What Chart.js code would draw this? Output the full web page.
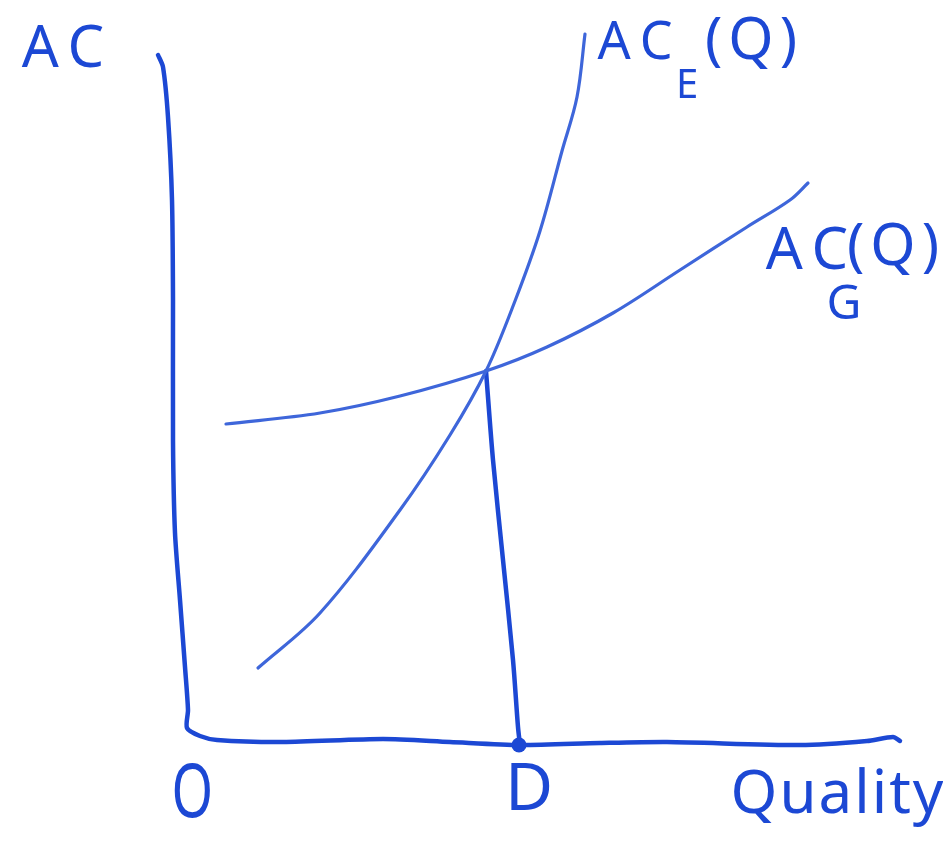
<!DOCTYPE html>
<html>
<head>
<meta charset="utf-8">
<title>Average cost and quality</title>
<script src="https://cdn.jsdelivr.net/npm/chart.js@4.4.1/dist/chart.umd.min.js"></script>
<style>
  html, body { margin: 0; padding: 0; background: #fff; }
  #wrap { width: 943px; height: 849px; position: relative; }
</style>
</head>
<body>
<div id="wrap"><canvas id="costChart"></canvas></div>
<script>
// Quality on x, average cost on y (origin O at 0,0)
// hand-drawn axis stroke: up the AC axis, round the corner, along Quality
const axisQ  = [-3.0, -2.5, -2.0, -1.6, -1.5, -1.5, -1.3, -0.8, -0.3, 0.0, -0.1, 1.2, 2.9, 9.5, 19.5, 26.2, 33.2, 41.2, 47.9, 61.2, 67.9, 70.5, 71.2];
const axisAC = [68.6, 67.4, 62.4, 54.1, 44.1, 30.0, 20.8, 14.1, 7.4, 3.1, 1.3, 0.5, 0.1, -0.1, 0.2, -0.1, -0.4, -0.2, -0.1, -0.4, 0.0, 0.4, 0.0];

// AC_E(Q): steep, convex
const acEQ = [7.0, 13.2, 21.2, 26.2, 29.8, 32.7, 35.2, 37.4, 38.9, 39.7];
const acE  = [7.3, 12.8, 23.1, 30.6, 37.0, 44.0, 51.0, 59.0, 64.4, 70.7];

// AC_G(Q): flatter
const acGQ = [3.8, 13.2, 21.2, 29.8, 35.9, 42.5, 49.2, 55.9, 60.2, 62.0];
const acG  = [31.7, 32.8, 34.5, 37.0, 39.4, 42.8, 47.1, 51.4, 54.1, 55.8];

// drop line from the crossing down to D
const dropQ  = [29.8, 30.5, 31.5, 32.5, 33.0, 33.2];
const dropAC = [37.0, 28.1, 18.1, 8.1, 1.4, -0.4];
const pointD = { q: 33.1, ac: -0.4 };

const labelTexts = ['AC', 'AC', 'E', '(Q)', 'AC', '(Q)', 'G', 'O', 'D', 'Quality'];
const labelQ     = [-12.0, 45.2, 50.0, 56.6, 62.4, 70.8, 65.7, 0.5, 34.2, 65.0];
const labelAC    = [69.1, 69.7, 65.4, 69.9, 48.9, 49.3, 43.6, -5.5, -5.0, -5.5];
const labelSizes = [58, 52, 40, 58, 58, 58, 48, 74, 66, 60];

const INK = 'rgb(28, 72, 212)';
const INK_LIGHT = 'rgb(62, 102, 218)';

function toPoints(xs, ys) {
  return xs.map((x, i) => ({ x: x, y: ys[i] }));
}

const handLabels = {
  id: 'handLabels',
  afterDatasetsDraw(chart) {
    const ctx = chart.ctx;
    const xs = chart.scales.x, ys = chart.scales.y;
    ctx.save();
    ctx.fillStyle = INK;
    ctx.textAlign = 'center';
    ctx.textBaseline = 'middle';
    labelTexts.forEach((t, i) => {
      ctx.font = labelSizes[i] + 'px "Noto Sans", sans-serif';
      ctx.letterSpacing = (t === 'AC') ? '10px' : (t === '(Q)' ? '6px' : '2px');
      const px = xs.getPixelForValue(labelQ[i]);
      const py = ys.getPixelForValue(labelAC[i]);
      if (t === 'O') {
        // narrow, tall O
        ctx.save();
        ctx.translate(px, py);
        ctx.scale(0.72, 1);
        ctx.fillText(t, 0, 0);
        ctx.restore();
      } else {
        ctx.fillText(t, px, py);
      }
    });
    ctx.restore();
  }
};

const line = (data, color, width, tension) => ({
  data: data,
  showLine: true,
  borderColor: color,
  borderWidth: width,
  borderCapStyle: 'round',
  borderJoinStyle: 'round',
  tension: tension,
  pointRadius: 0,
  fill: false
});

new Chart(document.getElementById('costChart'), {
  type: 'scatter',
  data: {
    datasets: [
      line(toPoints(axisQ, axisAC), INK, 4.5, 0.25),
      line(toPoints(acEQ, acE), INK_LIGHT, 3.2, 0.35),
      line(toPoints(acGQ, acG), INK_LIGHT, 3.2, 0.35),
      line(toPoints(dropQ, dropAC), INK, 4.5, 0.3),
      {
        data: [{ x: pointD.q, y: pointD.ac }],
        pointRadius: 7.5,
        pointBackgroundColor: INK,
        pointBorderWidth: 0
      }
    ]
  },
  options: {
    responsive: true,
    maintainAspectRatio: false,
    animation: false,
    layout: { padding: 0, autoPadding: false },
    plugins: { legend: { display: false }, tooltip: { enabled: false } },
    scales: {
      x: { type: 'linear', min: -18.8, max: 75.5, display: false },
      y: { type: 'linear', min: -10.8, max: 74.1, display: false }
    }
  },
  plugins: [handLabels]
});
</script>
</body>
</html>
